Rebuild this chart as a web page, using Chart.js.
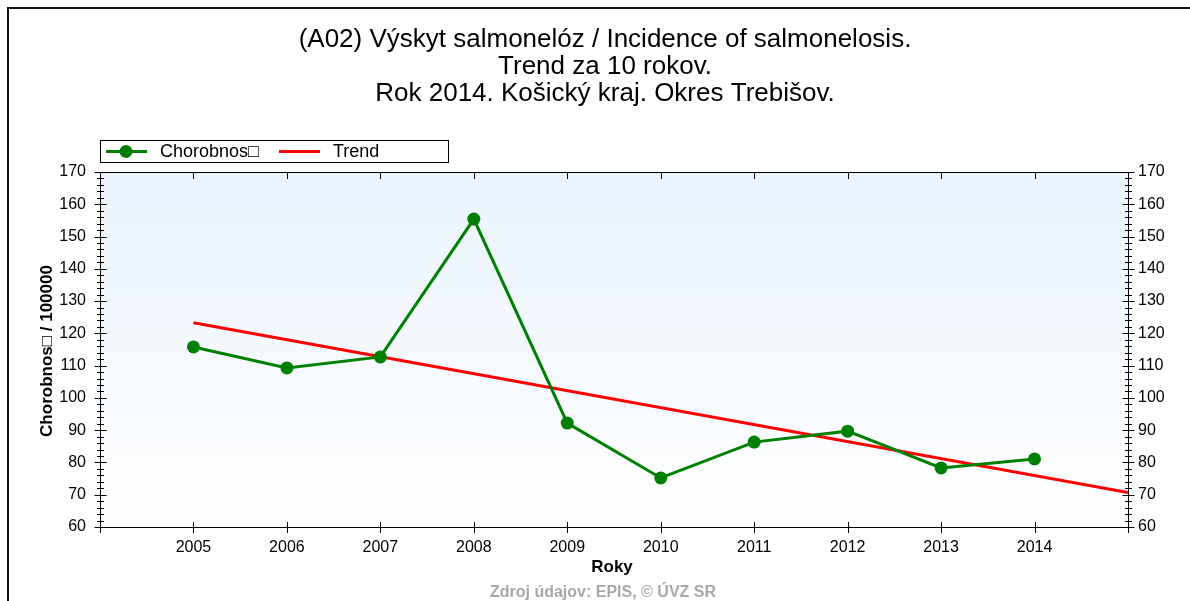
<!DOCTYPE html>
<html>
<head>
<meta charset="utf-8">
<script src="https://cdn.jsdelivr.net/npm/chart.js@4.4.1/dist/chart.umd.min.js"></script>
<style>
  html, body { margin: 0; padding: 0; background: #fff; }
  #wrap { width: 1190px; height: 601px; }
</style>
</head>
<body>
<div id="wrap"><canvas id="salmChart" width="1190" height="601"></canvas></div>
<script>
// values
const years = [2005, 2006, 2007, 2008, 2009, 2010, 2011, 2012, 2013, 2014];
const incidence = [115.8, 109.3, 112.7, 155.4, 92.2, 75.2, 86.3, 89.7, 78.3, 81.1];
const trendYears = [2005, 2015];
const trendValues = [123.3, 70.7];
const xRange = [2004, 2015];
const yRange = [60, 170];

const titleLines = [
    '(A02) Výskyt salmonelóz / Incidence of salmonelosis.',
    'Trend za 10 rokov.',
    'Rok 2014. Košický kraj. Okres Trebišov.'
];
const seriesLabels = ['Chorobnos\u25A1', 'Trend'];
const xAxisTitle = 'Roky';
const yAxisTitle = 'Chorobnos\u25A1 / 100000';
const sourceNote = 'Zdroj údajov: EPIS, © ÚVZ SR';

const FONT = '"Liberation Sans", Arial, sans-serif';

// light blue to white fill behind the plot
const plotBackground = {
    id: 'plotBackground',
    beforeDraw(chart) {
        const { ctx, chartArea: a } = chart;
        const g = ctx.createLinearGradient(0, a.top, 0, a.bottom);
        g.addColorStop(0, '#eaf3fd');
        g.addColorStop(1, '#ffffff');
        ctx.save();
        ctx.fillStyle = g;
        ctx.fillRect(a.left, a.top, a.right - a.left, a.bottom - a.top);
        ctx.restore();
    }
};

// box, crossing tick marks, titles, legend, outer frame
const decorations = {
    id: 'decorations',
    afterDraw(chart) {
        const { ctx, chartArea: a, scales } = chart;
        const line = (x1, y1, x2, y2) => {
            ctx.beginPath();
            ctx.moveTo(x1, y1);
            ctx.lineTo(x2, y2);
            ctx.stroke();
        };
        ctx.save();
        ctx.strokeStyle = '#000';
        ctx.lineWidth = 1;
        ctx.strokeRect(a.left + 0.5, a.top + 0.5, a.right - a.left, a.bottom - a.top);

        // y ticks, minor every 2, major every 10, on both axes
        for (let v = yRange[0]; v <= yRange[1]; v += 2) {
            const py = Math.round(scales.y.getPixelForValue(v)) + 0.5;
            const len = v % 10 === 0 ? 6 : 3.5;
            line(a.left + 0.5 - len, py, a.left + 0.5 + len, py);
            line(a.right + 0.5 - len, py, a.right + 0.5 + len, py);
        }
        // x ticks
        for (let yr = xRange[0]; yr <= xRange[1]; yr++) {
            const px = Math.round(scales.x.getPixelForValue(yr)) + 0.5;
            line(px, a.bottom - 5, px, a.bottom + 6);
        }
        years.forEach(yr => {
            const px = Math.round(scales.x.getPixelForValue(yr)) + 0.5;
            line(px, a.top, px, a.top + 7);
        });

        // title
        ctx.fillStyle = '#000';
        ctx.textAlign = 'center';
        ctx.textBaseline = 'middle';
        ctx.font = '26px ' + FONT;
        titleLines.forEach((t, i) => ctx.fillText(t, 605, 40 + i * 27));

        // axis titles
        ctx.font = 'bold 17px ' + FONT;
        ctx.fillText(xAxisTitle, 612, 567);
        ctx.save();
        ctx.translate(47, 351);
        ctx.rotate(-Math.PI / 2);
        ctx.fillText(yAxisTitle, 0, 0);
        ctx.restore();

        // source note
        ctx.fillStyle = '#a8a8a8';
        ctx.font = 'bold 16px ' + FONT;
        ctx.fillText(sourceNote, 603, 593);

        // legend
        ctx.strokeStyle = '#000';
        ctx.strokeRect(100.5, 140.5, 348, 22);
        const ds = chart.data.datasets;
        const legendX = [106, 279];
        ctx.textAlign = 'left';
        ctx.font = '18px ' + FONT;
        ds.forEach((d, i) => {
            const lx = legendX[i];
            ctx.strokeStyle = d.borderColor;
            ctx.lineWidth = 3;
            line(lx, 151.5, lx + 41, 151.5);
            if (d.pointRadius > 0) {
                ctx.fillStyle = d.pointBackgroundColor;
                ctx.beginPath();
                ctx.arc(lx + 20, 151.5, 6.5, 0, Math.PI * 2);
                ctx.fill();
            }
            ctx.fillStyle = '#000';
            ctx.fillText(d.label, lx + 54, 152);
        });

        // outer frame (only top and left edges are in view)
        ctx.fillStyle = '#111';
        ctx.fillRect(7, 7, 1183, 2);
        ctx.fillRect(7, 7, 2, 594);
        ctx.restore();
    }
};

const ctx = document.getElementById('salmChart').getContext('2d');
const salmChart = new Chart(ctx, {
    type: 'line',
    data: {
        datasets: [
            {
                label: seriesLabels[0],
                data: years.map((yr, i) => ({ x: yr, y: incidence[i] })),
                borderColor: '#008000',
                backgroundColor: '#008000',
                borderWidth: 3,
                pointRadius: 6.5,
                pointBorderWidth: 0,
                pointBackgroundColor: '#008000',
                tension: 0,
            },
            {
                label: seriesLabels[1],
                data: trendYears.map((yr, i) => ({ x: yr, y: trendValues[i] })),
                borderColor: '#ff0000',
                backgroundColor: '#ff0000',
                borderWidth: 3,
                pointRadius: 0,
                tension: 0,
            },
        ],
    },
    options: {
        responsive: false,
        animation: false,
        layout: { padding: { top: 172, left: 0, right: 0, bottom: 0 } },
        plugins: {
            legend: { display: false },
            title: { display: false },
            tooltip: { enabled: false },
        },
        scales: {
            x: {
                type: 'linear',
                position: 'bottom',
                min: xRange[0],
                max: xRange[1],
                grid: { display: false, drawTicks: false },
                border: { display: false },
                ticks: {
                    stepSize: 1,
                    padding: 11,
                    color: '#000',
                    font: { family: FONT, size: 16 },
                    maxRotation: 0,
                    autoSkip: false,
                    callback: v => (v > xRange[0] && v < xRange[1]) ? String(v) : '',
                },
                afterFit: s => { s.height = 74; },
            },
            y: {
                position: 'left',
                min: yRange[0],
                max: yRange[1],
                grid: { display: false, drawTicks: false },
                border: { display: false },
                ticks: {
                    stepSize: 10,
                    padding: 14,
                    color: '#000',
                    font: { family: FONT, size: 16 },
                },
                afterFit: s => { s.width = 100; },
            },
            y2: {
                position: 'right',
                min: yRange[0],
                max: yRange[1],
                grid: { display: false, drawTicks: false },
                border: { display: false },
                ticks: {
                    stepSize: 10,
                    padding: 10,
                    color: '#000',
                    font: { family: FONT, size: 16 },
                },
                afterFit: s => { s.width = 62; },
            },
        },
    },
    plugins: [plotBackground, decorations],
});
</script>
</body>
</html>
